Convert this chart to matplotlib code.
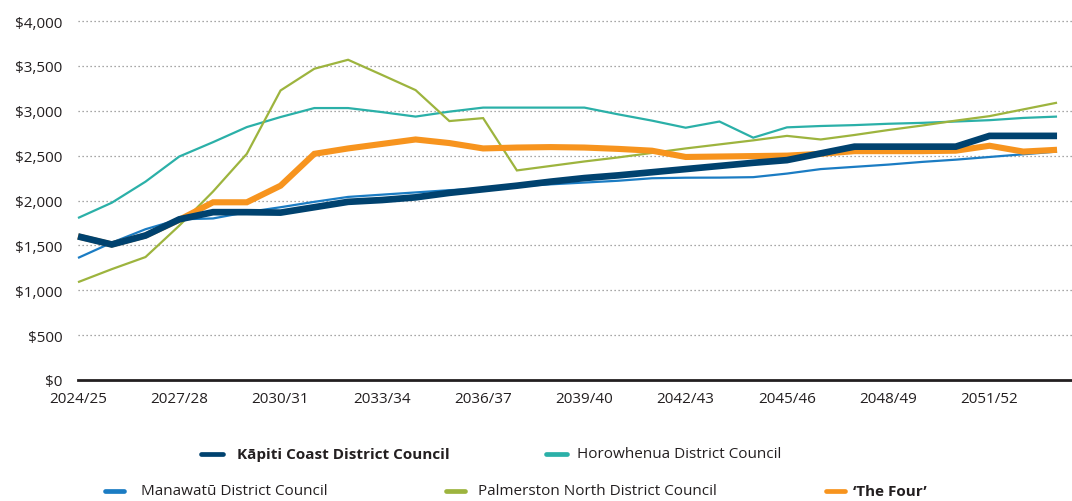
import matplotlib
matplotlib.use("Agg")
import matplotlib.pyplot as plt
from matplotlib.lines import Line2D
from matplotlib.ticker import FuncFormatter

plt.rcParams['font.family'] = ['Open Sans', 'DejaVu Sans']

years = ["2024/25", "2025/26", "2026/27", "2027/28", "2028/29", "2029/30", "2030/31",
         "2031/32", "2032/33", "2033/34", "2034/35", "2035/36", "2036/37", "2037/38",
         "2038/39", "2039/40", "2040/41", "2041/42", "2042/43", "2043/44", "2044/45",
         "2045/46", "2046/47", "2047/48", "2048/49", "2049/50", "2050/51", "2051/52",
         "2052/53", "2053/54"]

kapiti = [1600, 1510, 1610, 1790, 1870, 1870, 1865, 1925, 1985, 2005, 2035, 2085, 2125, 2165,
          2210, 2250, 2280, 2315, 2350, 2385, 2420, 2450, 2525, 2600, 2600, 2600, 2600, 2720,
          2720, 2720]
horowhenua = [1805, 1975, 2210, 2490, 2650, 2818, 2930, 3030, 3030, 2985, 2935, 2990, 3035, 3035,
              3035, 3035, 2960, 2890, 2811, 2880, 2700, 2815, 2830, 2840, 2855, 2865, 2880, 2895,
              2920, 2935]
manawatu = [1360, 1530, 1680, 1790, 1800, 1870, 1925, 1985, 2040, 2065, 2090, 2115, 2135, 2160,
            2180, 2200, 2220, 2248, 2254, 2255, 2260, 2300, 2350, 2375, 2400, 2430, 2455, 2485,
            2515, 2545]
palmerston = [1090, 1235, 1370, 1720, 2100, 2520, 3226, 3468, 3568, 3400, 3230, 2885, 2918, 2335,
              2385, 2435, 2480, 2530, 2580, 2625, 2670, 2720, 2680, 2730, 2785, 2835, 2890, 2940,
              3015, 3090]
the_four = [1600, 1510, 1610, 1785, 1980, 1980, 2165, 2520, 2580, 2630, 2680, 2640, 2580, 2590,
            2595, 2590, 2575, 2555, 2485, 2490, 2495, 2500, 2520, 2550, 2550, 2550, 2555, 2610,
            2545, 2565]

y_ticks = [0, 500, 1000, 1500, 2000, 2500, 3000, 3500, 4000]

C_KAP = '#00426F'
C_HOR = '#2BB0A8'
C_MAN = '#1B7CC3'
C_PN = '#9DB43E'
C_FOUR = '#F7941E'
TXT = '#231F20'
FS = 11

W, H = 1072, 502
fig = plt.figure(figsize=(W / 100, H / 100), dpi=100)
ax = fig.add_axes([78 / W, (H - 381) / H, (W - 78) / W, (381 - 22) / H])

x = list(range(len(years)))
series = [
    (manawatu, C_MAN, 1.6, 2),
    (horowhenua, C_HOR, 1.6, 3),
    (palmerston, C_PN, 1.6, 4),
    (the_four, C_FOUR, 4.4, 5),
    (kapiti, C_KAP, 4.8, 6),
]
for vals, col, lw, z in series:
    ax.plot(x, vals, color=col, lw=lw, zorder=z, clip_on=False,
            solid_joinstyle='miter', solid_capstyle='butt')

ax.set_xlim(0, (W - 78) / 33.76)
ax.set_ylim(0, 4000)
ax.set_yticks(y_ticks)
ax.yaxis.set_major_formatter(FuncFormatter(lambda v, p: f"${v:,.0f}"))
ax.set_xticks(x[::3])
ax.set_xticklabels(years[::3])
ax.tick_params(axis='both', length=0, labelsize=FS, colors=TXT)
ax.tick_params(axis='y', pad=11)
ax.tick_params(axis='x', pad=8)

for v in y_ticks[1:]:
    ax.axhline(v, color='#8a8a8a', lw=0.9, ls=(0, (1, 2.2)), zorder=1, clip_on=False)

for s in ['top', 'right', 'left']:
    ax.spines[s].set_visible(False)
ax.spines['bottom'].set_color(TXT)
ax.spines['bottom'].set_linewidth(2.0)
ax.spines['bottom'].set_zorder(7)

# legend (manual placement to match two-row layout)
legend_items = [
    ("Kāpiti Coast District Council", C_KAP, 199, 225, 237, 455, 'bold'),
    ("Horowhenua District Council", C_HOR, 544, 569, 577, 455, 'normal'),
    ("Manawatū District Council", C_MAN, 103, 126, 141, 492, 'normal'),
    ("Palmerston North District Council", C_PN, 444, 467, 478, 492, 'normal'),
    ("\u2018The Four\u2019", C_FOUR, 824, 847, 853, 492, 'bold'),
]
for label, col, mx0, mx1, tx, yy, wt in legend_items:
    fy = (H - yy) / H
    fig.add_artist(Line2D([(mx0 + 2) / W, (mx1 - 2) / W], [fy, fy], transform=fig.transFigure,
                          color=col, lw=3.4, solid_capstyle='round'))
    fig.text(tx / W, fy, label, fontsize=FS, fontweight=wt, color=TXT,
             ha='left', va='center')

fig.savefig("out.png", dpi=100)
